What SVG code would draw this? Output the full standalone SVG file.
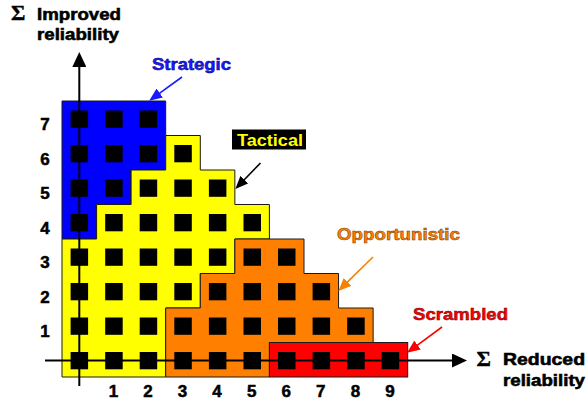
<svg xmlns="http://www.w3.org/2000/svg" width="587" height="400" viewBox="0 0 587 400">
<style>
.region{stroke:#1a1a1a;stroke-width:1}
.sq{fill:#000}
.t{font-family:"Liberation Sans",Arial,sans-serif;font-weight:bold}
.sig{font-family:"Liberation Serif","Times New Roman",serif;font-weight:bold;font-size:22px;fill:#000;stroke:#000;stroke-width:0.4}
.axt{font-size:17px;fill:#000;stroke:#000;stroke-width:0.6}
.num{font-size:17px;fill:#000;stroke:#000;stroke-width:0.5;text-anchor:middle}
.ax{stroke:#000;stroke-width:2;fill:none}
.call{stroke-width:1.6;fill:none}
</style>
<defs>
<marker id="axhead" viewBox="0 0 15 14" refX="5" refY="7" markerWidth="15" markerHeight="14" markerUnits="userSpaceOnUse" orient="auto"><path d="M0,0 L15,7 L0,14 z" fill="#000"/></marker>
<marker id="hBlue" viewBox="0 0 13 11" refX="3" refY="5.5" markerWidth="13" markerHeight="11" markerUnits="userSpaceOnUse" orient="auto"><path d="M0,0 L13,5.5 L0,11 z" fill="#1a1aff"/></marker>
<marker id="hBlack" viewBox="0 0 13 11" refX="3" refY="5.5" markerWidth="13" markerHeight="11" markerUnits="userSpaceOnUse" orient="auto"><path d="M0,0 L13,5.5 L0,11 z" fill="#000"/></marker>
<marker id="hOrange" viewBox="0 0 13 11" refX="3" refY="5.5" markerWidth="13" markerHeight="11" markerUnits="userSpaceOnUse" orient="auto"><path d="M0,0 L13,5.5 L0,11 z" fill="#f58200"/></marker>
<marker id="hRed" viewBox="0 0 13 11" refX="3" refY="5.5" markerWidth="13" markerHeight="11" markerUnits="userSpaceOnUse" orient="auto"><path d="M0,0 L13,5.5 L0,11 z" fill="#ff0000"/></marker>
</defs>
<rect width="587" height="400" fill="#fff"/>

<g id="strategic">
<polygon class="region" fill="#0000ff" points="62,101 165.7,101 165.7,170 131.1,170 131.1,204.5 96.6,204.5 96.6,239 62,239"/>
</g>
<g id="tactical">
<polygon class="region" fill="#ffff00" points="165.7,135.5 200.3,135.5 200.3,170 234.85,170 234.85,204.5 269.4,204.5 269.4,239 234.85,239 234.85,273.5 200.3,273.5 200.3,308 165.7,308 165.7,377 62,377 62,239 96.6,239 96.6,204.5 131.1,204.5 131.1,170 165.7,170"/>
</g>
<g id="opportunistic">
<polygon class="region" fill="#ff8000" points="234.85,239 304,239 304,273.5 338.56,273.5 338.56,308 373.13,308 373.13,342.5 269.42,342.5 269.42,377 165.7,377 165.7,308 200.3,308 200.3,273.5 234.85,273.5"/>
</g>
<g id="scrambled">
<rect class="region" fill="#ff0000" x="269.42" y="342.5" width="138.28" height="34.5"/>
</g>

<g id="squares">
<g transform="translate(0,110.5)">
<rect class="sq" x="70.6" width="17.5" height="17.3"/><rect class="sq" x="105.2" width="17.5" height="17.3"/><rect class="sq" x="139.7" width="17.5" height="17.3"/>
</g>
<g transform="translate(0,145)">
<rect class="sq" x="70.6" width="17.5" height="17.3"/><rect class="sq" x="105.2" width="17.5" height="17.3"/><rect class="sq" x="139.7" width="17.5" height="17.3"/><rect class="sq" x="174.3" width="17.5" height="17.3"/>
</g>
<g transform="translate(0,179.5)">
<rect class="sq" x="70.6" width="17.5" height="17.3"/><rect class="sq" x="105.2" width="17.5" height="17.3"/><rect class="sq" x="139.7" width="17.5" height="17.3"/><rect class="sq" x="174.3" width="17.5" height="17.3"/><rect class="sq" x="208.9" width="17.5" height="17.3"/>
</g>
<g transform="translate(0,214)">
<rect class="sq" x="70.6" width="17.5" height="17.3"/><rect class="sq" x="105.2" width="17.5" height="17.3"/><rect class="sq" x="139.7" width="17.5" height="17.3"/><rect class="sq" x="174.3" width="17.5" height="17.3"/><rect class="sq" x="208.9" width="17.5" height="17.3"/><rect class="sq" x="243.5" width="17.5" height="17.3"/>
</g>
<g transform="translate(0,248.5)">
<rect class="sq" x="70.6" width="17.5" height="17.3"/><rect class="sq" x="105.2" width="17.5" height="17.3"/><rect class="sq" x="139.7" width="17.5" height="17.3"/><rect class="sq" x="174.3" width="17.5" height="17.3"/><rect class="sq" x="208.9" width="17.5" height="17.3"/><rect class="sq" x="243.5" width="17.5" height="17.3"/><rect class="sq" x="278" width="17.5" height="17.3"/>
</g>
<g transform="translate(0,283)">
<rect class="sq" x="70.6" width="17.5" height="17.3"/><rect class="sq" x="105.2" width="17.5" height="17.3"/><rect class="sq" x="139.7" width="17.5" height="17.3"/><rect class="sq" x="174.3" width="17.5" height="17.3"/><rect class="sq" x="208.9" width="17.5" height="17.3"/><rect class="sq" x="243.5" width="17.5" height="17.3"/><rect class="sq" x="278" width="17.5" height="17.3"/><rect class="sq" x="312.6" width="17.5" height="17.3"/>
</g>
<g transform="translate(0,317.5)">
<rect class="sq" x="70.6" width="17.5" height="17.3"/><rect class="sq" x="105.2" width="17.5" height="17.3"/><rect class="sq" x="139.7" width="17.5" height="17.3"/><rect class="sq" x="174.3" width="17.5" height="17.3"/><rect class="sq" x="208.9" width="17.5" height="17.3"/><rect class="sq" x="243.5" width="17.5" height="17.3"/><rect class="sq" x="278" width="17.5" height="17.3"/><rect class="sq" x="312.6" width="17.5" height="17.3"/><rect class="sq" x="347.2" width="17.5" height="17.3"/>
</g>
<g transform="translate(0,352)">
<rect class="sq" x="70.6" width="17.5" height="17.3"/><rect class="sq" x="105.2" width="17.5" height="17.3"/><rect class="sq" x="139.7" width="17.5" height="17.3"/><rect class="sq" x="174.3" width="17.5" height="17.3"/><rect class="sq" x="208.9" width="17.5" height="17.3"/><rect class="sq" x="243.5" width="17.5" height="17.3"/><rect class="sq" x="278" width="17.5" height="17.3"/><rect class="sq" x="312.6" width="17.5" height="17.3"/><rect class="sq" x="347.2" width="17.5" height="17.3"/><rect class="sq" x="381.7" width="17.5" height="17.3"/>
</g>
</g>

<g id="connectors">
<line class="ax" x1="79.3" y1="386" x2="79.3" y2="62" marker-end="url(#axhead)"/>
<line class="ax" x1="45" y1="360.5" x2="457" y2="360.5" marker-end="url(#axhead)"/>
<line class="call" stroke="#1a1aff" x1="182" y1="77" x2="157.3" y2="94.8" marker-end="url(#hBlue)"/>
<line class="call" stroke="#000" x1="260.5" y1="163" x2="242.3" y2="181.8" marker-end="url(#hBlack)"/>
<line class="call" stroke="#f58200" x1="373" y1="257" x2="345.5" y2="283.9" marker-end="url(#hOrange)"/>
<line class="call" stroke="#ff0000" x1="442" y1="327" x2="415.1" y2="346.8" marker-end="url(#hRed)"/>
</g>

<g id="yaxis-label">
<text class="sig" x="11" y="20">Σ</text>
<text class="t axt" x="37" y="19.5" textLength="84" lengthAdjust="spacingAndGlyphs">Improved</text>
<text class="t axt" x="37" y="40" textLength="82" lengthAdjust="spacingAndGlyphs">reliability</text>
</g>
<g id="xaxis-label">
<text class="sig" x="476.5" y="366">Σ</text>
<text class="t axt" x="503" y="365" textLength="82" lengthAdjust="spacingAndGlyphs">Reduced</text>
<text class="t axt" x="503" y="385.5" textLength="82" lengthAdjust="spacingAndGlyphs">reliability</text>
</g>
<g id="label-strategic">
<text class="t" x="152" y="69.5" font-size="16.5" fill="#1a1aff" stroke="#000080" stroke-width="0.5" textLength="79" lengthAdjust="spacingAndGlyphs">Strategic</text>
</g>
<g id="label-tactical">
<rect x="232" y="129.5" width="74" height="20" fill="#000"/>
<text class="t" x="237" y="145.5" font-size="16.5" fill="#ffff00" textLength="66" lengthAdjust="spacingAndGlyphs">Tactical</text>
</g>
<g id="label-opportunistic">
<text class="t" x="337" y="240" font-size="16.5" fill="#ff8000" stroke="#7a3c00" stroke-width="0.5" textLength="123" lengthAdjust="spacingAndGlyphs">Opportunistic</text>
</g>
<g id="label-scrambled">
<text class="t" x="413" y="320" font-size="16.5" fill="#ff0000" stroke="#7a0000" stroke-width="0.5" textLength="95" lengthAdjust="spacingAndGlyphs">Scrambled</text>
</g>
<g id="y-ticks" class="t">
<text class="num" x="45" y="130">7</text>
<text class="num" x="45" y="164.5">6</text>
<text class="num" x="45" y="199">5</text>
<text class="num" x="45" y="233.5">4</text>
<text class="num" x="45" y="268">3</text>
<text class="num" x="45" y="302.5">2</text>
<text class="num" x="45" y="337">1</text>
</g>
<g id="x-ticks" class="t">
<text class="num" x="113.4" y="396.5">1</text>
<text class="num" x="148" y="396.5">2</text>
<text class="num" x="182.6" y="396.5">3</text>
<text class="num" x="217.1" y="396.5">4</text>
<text class="num" x="251.7" y="396.5">5</text>
<text class="num" x="286.3" y="396.5">6</text>
<text class="num" x="320.8" y="396.5">7</text>
<text class="num" x="355.4" y="396.5">8</text>
<text class="num" x="390" y="396.5">9</text>
</g>
</svg>
